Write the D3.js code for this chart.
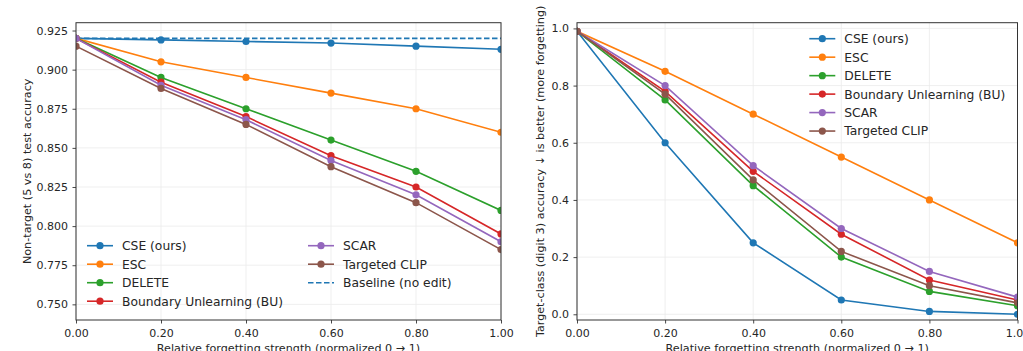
<!DOCTYPE html>
<html>
<head>
<meta charset="utf-8">
<script src="https://cdn.jsdelivr.net/npm/d3@7"></script>
<style>
  body { margin: 0; background: #fff; }
  svg { display: block; font-family: "DejaVu Sans", sans-serif; }
  .tick text { fill: #262626; }
</style>
</head>
<body>
<div id="chart"></div>
<script>
// x positions shared by both panels
let strength = [0, 0.2, 0.4, 0.6, 0.8, 1.0];
let methods = ["CSE (ours)", "ESC", "DELETE", "Boundary Unlearning (BU)", "SCAR", "Targeted CLIP"];
let colors = ["#1f77b4", "#ff7f0e", "#2ca02c", "#d62728", "#9467bd", "#8c564b"];

// left panel: non-target (5 vs 8) test accuracy
let ntCSE = [0.920, 0.919, 0.918, 0.917, 0.915, 0.913];
let ntESC = [0.920, 0.905, 0.895, 0.885, 0.875, 0.860];
let ntDELETE = [0.920, 0.895, 0.875, 0.855, 0.835, 0.810];
let ntBU = [0.920, 0.892, 0.870, 0.845, 0.825, 0.795];
let ntSCAR = [0.920, 0.890, 0.868, 0.842, 0.820, 0.790];
let ntCLIP = [0.915, 0.888, 0.865, 0.838, 0.815, 0.785];
let ntBaseline = 0.920;

// right panel: target-class (digit 3) accuracy
let tcCSE = [0.99, 0.60, 0.25, 0.05, 0.01, 0.00];
let tcESC = [0.99, 0.85, 0.70, 0.55, 0.40, 0.25];
let tcDELETE = [0.99, 0.75, 0.45, 0.20, 0.08, 0.03];
let tcBU = [0.99, 0.78, 0.50, 0.28, 0.12, 0.05];
let tcSCAR = [0.99, 0.80, 0.52, 0.30, 0.15, 0.06];
let tcCLIP = [0.99, 0.77, 0.47, 0.22, 0.10, 0.04];

// tick values
let xTicks = [0, 0.2, 0.4, 0.6, 0.8, 1.0];
let ntTicks = [0.750, 0.775, 0.800, 0.825, 0.850, 0.875, 0.900, 0.925];
let tcTicks = [0.0, 0.2, 0.4, 0.6, 0.8, 1.0];

let width = 1023;
let height = 351;
let tickFont = 11;
let labelFont = 11.2;
let legendFont = 12.3;

let svg = d3.select("#chart")
  .append("svg")
  .attr("width", width)
  .attr("height", height);

svg.append("rect").attr("width", width).attr("height", height).attr("fill", "#fff");

function drawPanel(p) {
  let xScale = d3.scaleLinear().domain([0, 1]).range([p.left, p.right]);
  let yScale = d3.scaleLinear().domain(p.yDomain).range([p.bottom, p.top]);

  let g = svg.append("g");

  // grid
  g.selectAll(".gx").data(xTicks).enter().append("line")
    .attr("x1", d => xScale(d)).attr("x2", d => xScale(d))
    .attr("y1", p.top).attr("y2", p.bottom)
    .attr("stroke", "#ebebeb").attr("stroke-width", 0.8);
  g.selectAll(".gy").data(p.yTicks).enter().append("line")
    .attr("x1", p.left).attr("x2", p.right)
    .attr("y1", d => yScale(d)).attr("y2", d => yScale(d))
    .attr("stroke", "#ebebeb").attr("stroke-width", 0.8);

  // clip for marks
  svg.append("clipPath").attr("id", p.id + "clip")
    .append("rect")
    .attr("x", p.left).attr("y", p.top)
    .attr("width", p.right - p.left).attr("height", p.bottom - p.top);

  let plot = g.append("g").attr("clip-path", "url(#" + p.id + "clip)");

  if (p.baseline !== undefined) {
    plot.append("line")
      .attr("x1", p.left).attr("x2", p.right)
      .attr("y1", yScale(p.baseline)).attr("y2", yScale(p.baseline))
      .attr("stroke", colors[0]).attr("stroke-width", 1.6)
      .attr("stroke-dasharray", "5.5,2.5");
  }

  let line = d3.line().x((d, i) => xScale(strength[i])).y(d => yScale(d));

  p.series.forEach(function(vals, k) {
    plot.append("path")
      .attr("d", line(vals))
      .attr("fill", "none")
      .attr("stroke", colors[k])
      .attr("stroke-width", 1.6);
    plot.selectAll(".m" + k).data(vals).enter().append("circle")
      .attr("cx", (d, i) => xScale(strength[i]))
      .attr("cy", d => yScale(d))
      .attr("r", 3.6)
      .attr("fill", colors[k]);
  });

  // axes
  let xAxis = d3.axisBottom(xScale).tickValues(xTicks).tickFormat(d3.format(".2f"))
    .tickSizeInner(3.5).tickSizeOuter(0).tickPadding(5.5);
  let yAxis = d3.axisLeft(yScale).tickValues(p.yTicks).tickFormat(d3.format(p.yFormat))
    .tickSizeInner(3.5).tickSizeOuter(0).tickPadding(4.5);

  let gx = g.append("g").attr("transform", "translate(0," + p.bottom + ")").call(xAxis);
  let gy = g.append("g").attr("transform", "translate(" + p.left + ",0)").call(yAxis);
  [gx, gy].forEach(function(a) {
    a.select(".domain").remove();
    a.selectAll(".tick line").attr("stroke", "#333").attr("stroke-width", 0.9);
    a.selectAll(".tick text").attr("font-size", tickFont).attr("font-family", "DejaVu Sans");
  });

  // spines
  g.append("rect")
    .attr("x", p.left).attr("y", p.top)
    .attr("width", p.right - p.left).attr("height", p.bottom - p.top)
    .attr("fill", "none").attr("stroke", "#333").attr("stroke-width", 1);

  // axis labels
  g.append("text")
    .attr("x", (p.left + p.right) / 2).attr("y", 352)
    .attr("text-anchor", "middle")
    .attr("font-size", labelFont).attr("fill", "#262626")
    .text("Relative forgetting strength (normalized 0 \u2192 1)");

  g.append("text")
    .attr("transform", "translate(" + p.yLabelX + "," + ((p.top + p.bottom) / 2) + ")rotate(-90)")
    .attr("text-anchor", "middle")
    .attr("font-size", labelFont).attr("fill", "#262626")
    .text(p.yLabel);

  // legend
  p.legend.forEach(function(item) {
    let lg = g.append("g").attr("transform", "translate(" + item.x + "," + item.y + ")");
    lg.append("line")
      .attr("x1", 0).attr("x2", 26).attr("y1", 0).attr("y2", 0)
      .attr("stroke", item.color).attr("stroke-width", 1.6)
      .attr("stroke-dasharray", item.dashed ? "5.5,2.5" : null);
    if (!item.dashed) {
      lg.append("circle").attr("cx", 13).attr("cy", 0).attr("r", 3.6).attr("fill", item.color);
    }
    lg.append("text")
      .attr("x", 35).attr("y", 0).attr("dy", "0.36em")
      .attr("font-size", legendFont).attr("fill", "#262626")
      .text(item.name);
  });
}

// left legend: two columns in the lower left
let leftLegend = [];
methods.forEach(function(m, k) {
  let col = k < 4 ? 0 : 1;
  let row = k < 4 ? k : k - 4;
  leftLegend.push({ name: m, color: colors[k], x: col ? 308 : 87, y: 245.7 + row * 18.5 });
});
leftLegend.push({ name: "Baseline (no edit)", color: colors[0], dashed: true, x: 308, y: 245.7 + 2 * 18.5 });

// right legend: one column in the upper right
let rightLegend = methods.map(function(m, k) {
  return { name: m, color: colors[k], x: 809.3, y: 38.7 + k * 18.47 };
});

drawPanel({
  id: "left",
  left: 76, right: 501, top: 22.7, bottom: 320,
  yDomain: [0.74, 0.93], yTicks: ntTicks, yFormat: ".3f",
  series: [ntCSE, ntESC, ntDELETE, ntBU, ntSCAR, ntCLIP],
  baseline: ntBaseline,
  yLabel: "Non-target (5 vs 8) test accuracy", yLabelX: 31,
  legend: leftLegend
});

drawPanel({
  id: "right",
  left: 577, right: 1017.5, top: 22.7, bottom: 320,
  yDomain: [-0.02, 1.02], yTicks: tcTicks, yFormat: ".1f",
  series: [tcCSE, tcESC, tcDELETE, tcBU, tcSCAR, tcCLIP],
  yLabel: "Target-class (digit 3) accuracy  \u2193 is better (more forgetting)", yLabelX: 544,
  legend: rightLegend
});
</script>
</body>
</html>
